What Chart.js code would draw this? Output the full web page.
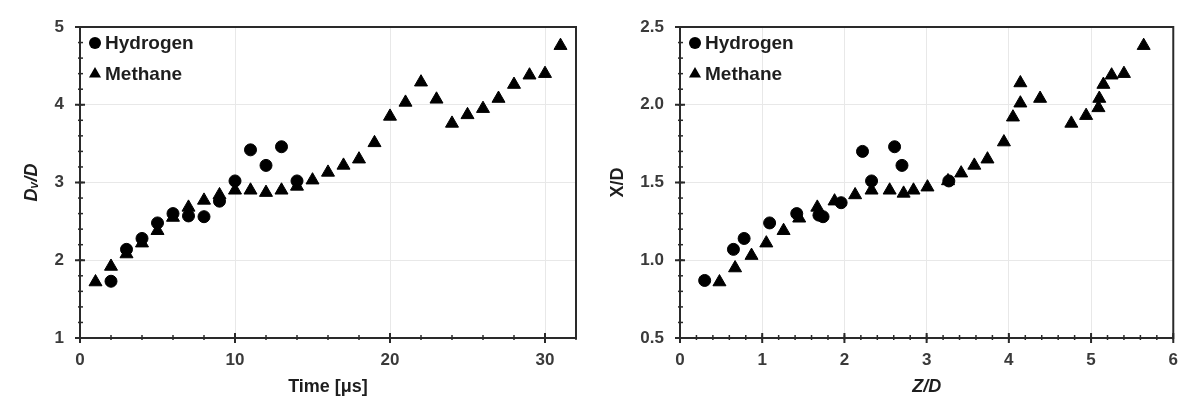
<!DOCTYPE html>
<html>
<head>
<meta charset="utf-8">
<script src="https://cdn.jsdelivr.net/npm/chart.js@4.4.1/dist/chart.umd.min.js"></script>
<style>
  html, body { margin: 0; padding: 0; background: #fff; }
  .wrap { position: absolute; top: 0; width: 595px; height: 410px; }
  #leftWrap { left: 0; }
  #rightWrap { left: 595px; }
</style>
</head>
<body>
<div class="wrap" id="leftWrap"><canvas id="timeChart" width="595" height="410"></canvas></div>
<div class="wrap" id="rightWrap"><canvas id="zChart" width="595" height="410"></canvas></div>
<script>
// Left panel: vortex diameter vs time
const timeH2 = [2, 3, 4, 5, 6, 7, 8, 9, 10, 11, 12, 13, 14];
const dvH2 = [1.73, 2.14, 2.28, 2.48, 2.60, 2.57, 2.56, 2.76, 3.02, 3.42, 3.22, 3.46, 3.02];
const timeCH4 = [1, 2, 3, 4, 5, 6, 7, 8, 9, 10, 11, 12, 13, 14, 15, 16, 17, 18, 19, 20, 21, 22, 23, 24, 25, 26, 27, 28, 29, 30, 31];
const dvCH4 = [1.72, 1.92, 2.08, 2.22, 2.38, 2.55, 2.68, 2.77, 2.84, 2.90, 2.90, 2.87, 2.90, 2.95, 3.03,
               3.13, 3.22, 3.30, 3.51, 3.85, 4.03, 4.29, 4.07, 3.76, 3.87, 3.95, 4.08, 4.26, 4.38, 4.40, 4.76];

// Right panel: X/D vs Z/D
const zdH2 = [0.30, 0.65, 0.78, 1.09, 1.42, 1.69, 1.74, 1.96, 2.22, 2.33, 2.61, 2.70, 3.27];
const xdH2 = [0.87, 1.07, 1.14, 1.24, 1.30, 1.29, 1.28, 1.37, 1.70, 1.51, 1.73, 1.61, 1.51];
const zdCH4 = [0.48, 0.67, 0.87, 1.05, 1.26, 1.45, 1.67, 1.88, 2.13, 2.33, 2.55, 2.72, 2.84, 3.01, 3.26, 3.42,
               3.58, 3.74, 3.94, 4.05, 4.14, 4.14, 4.38, 4.76, 4.94, 5.09, 5.10, 5.15, 5.25, 5.40, 5.64];
const xdCH4 = [0.86, 0.95, 1.03, 1.11, 1.19, 1.27, 1.34, 1.38, 1.42, 1.45, 1.45, 1.43, 1.45, 1.47, 1.51, 1.56,
               1.61, 1.65, 1.76, 1.92, 2.01, 2.14, 2.04, 1.88, 1.93, 1.98, 2.04, 2.13, 2.19, 2.20, 2.38];

const seriesNames = ['Hydrogen', 'Methane'];

const FONT = "'Liberation Sans', Arial, sans-serif";
const INK = '#1e1e1e';
const TICK_INK = '#3a3a3a';

const toPoints = (xs, ys) => xs.map((v, i) => ({ x: v, y: ys[i] }));

// frame + major/minor tick marks drawn from the scales
const frameTicks = {
    id: 'frameTicks',
    afterDatasetsDraw(chart, args, opts) {
        const { ctx, chartArea: a, scales: { x, y } } = chart;
        ctx.save();
        ctx.strokeStyle = '#2a2a2a';
        ctx.lineWidth = 1.5;
        const n = (s, step) => Math.round((s.max - s.min) / step);
        for (let i = 0; i <= n(x, opts.xMinor); i++) {
            const px = x.getPixelForValue(x.min + i * opts.xMinor);
            ctx.beginPath(); ctx.moveTo(px, a.bottom - 3); ctx.lineTo(px, a.bottom + 2); ctx.stroke();
        }
        for (let i = 0; i <= n(y, opts.yMinor); i++) {
            const py = y.getPixelForValue(y.min + i * opts.yMinor);
            ctx.beginPath(); ctx.moveTo(a.left - 2, py); ctx.lineTo(a.left + 3, py); ctx.stroke();
        }
        ctx.lineWidth = 2;
        x.ticks.forEach(t => {
            const px = x.getPixelForValue(t.value);
            ctx.beginPath(); ctx.moveTo(px, a.bottom - 5); ctx.lineTo(px, a.bottom + 5); ctx.stroke();
        });
        y.ticks.forEach(t => {
            const py = y.getPixelForValue(t.value);
            ctx.beginPath(); ctx.moveTo(a.left - 5, py); ctx.lineTo(a.left + 5, py); ctx.stroke();
        });
        ctx.strokeRect(a.left, a.top, a.right - a.left, a.bottom - a.top);
        ctx.restore();
    }
};

// legend tucked into the top-left corner of the plot
const insideLegend = {
    id: 'insideLegend',
    afterDraw(chart, args, opts) {
        const { ctx, chartArea: a } = chart;
        ctx.save();
        ctx.font = `bold 19px ${FONT}`;
        ctx.textBaseline = 'middle';
        chart.data.datasets.forEach((ds, i) => {
            const cx = a.left + 15;
            const cy = a.top + 16 + i * 31;
            ctx.fillStyle = '#000';
            Chart.helpers.drawPoint(ctx, { pointStyle: ds.pointStyle, radius: opts.radius[i], borderWidth: 0 }, cx, cy);
            ctx.fillStyle = INK;
            ctx.fillText(ds.label, cx + 10, cy + 1);
        });
        ctx.restore();
    }
};

function makeChart(id, cfg) {
    return new Chart(document.getElementById(id), {
        type: 'scatter',
        data: {
            datasets: [
                {
                    label: seriesNames[0],
                    data: cfg.h2,
                    pointStyle: 'circle',
                    pointRadius: 6,
                    pointBorderWidth: 1,
                    backgroundColor: '#000',
                    borderColor: '#000'
                },
                {
                    label: seriesNames[1],
                    data: cfg.ch4,
                    pointStyle: 'triangle',
                    pointRadius: 7.5,
                    pointBorderWidth: 1,
                    backgroundColor: '#000',
                    borderColor: '#000'
                }
            ]
        },
        options: {
            responsive: false,
            animation: false,
            layout: { padding: { top: 27, right: cfg.padRight, left: 0, bottom: 0 } },
            scales: {
                x: {
                    type: 'linear',
                    min: cfg.xMin, max: cfg.xMax,
                    ticks: {
                        stepSize: cfg.xStep, includeBounds: false, padding: 12,
                        color: TICK_INK, font: { family: FONT, size: 17, weight: 'bold' },
                        callback: cfg.xFmt
                    },
                    grid: { color: '#e8e8e8', lineWidth: 1, drawTicks: false },
                    border: { display: false },
                    title: {
                        display: true, text: cfg.xTitle, color: INK,
                        font: { family: FONT, size: 18, weight: 'bold', style: cfg.xTitleStyle },
                        padding: { top: 0, bottom: 12 }
                    },
                    afterFit(s) { s.height = 72; }
                },
                y: {
                    type: 'linear',
                    min: cfg.yMin, max: cfg.yMax,
                    ticks: {
                        stepSize: cfg.yStep, padding: 16,
                        color: TICK_INK, font: { family: FONT, size: 17, weight: 'bold' },
                        callback: cfg.yFmt
                    },
                    grid: { color: '#e8e8e8', lineWidth: 1, drawTicks: false },
                    border: { display: false },
                    title: {
                        display: true, text: cfg.yTitle, color: INK,
                        font: { family: FONT, size: 18, weight: 'bold', style: cfg.yTitleStyle },
                        padding: { top: cfg.yTitlePad, bottom: 0 }
                    },
                    afterFit(s) { s.width = cfg.yWidth; }
                }
            },
            plugins: {
                legend: { display: false },
                tooltip: { enabled: false },
                frameTicks: { xMinor: cfg.xMinor, yMinor: cfg.yMinor },
                insideLegend: { radius: [6, 7] }
            }
        },
        plugins: [frameTicks, insideLegend]
    });
}

makeChart('timeChart', {
    h2: toPoints(timeH2, dvH2),
    ch4: toPoints(timeCH4, dvCH4),
    xMin: 0, xMax: 32, xStep: 10, xMinor: 2,
    yMin: 1, yMax: 5, yStep: 1, yMinor: 0.2,
    xFmt: v => v, yFmt: v => v,
    xTitle: 'Time [μs]', xTitleStyle: 'normal',
    yTitle: 'Dᵥ/D', yTitleStyle: 'italic', yTitlePad: 21,
    yWidth: 80, padRight: 19
});

makeChart('zChart', {
    h2: toPoints(zdH2, xdH2),
    ch4: toPoints(zdCH4, xdCH4),
    xMin: 0, xMax: 6, xStep: 1, xMinor: 0.2,
    yMin: 0.5, yMax: 2.5, yStep: 0.5, yMinor: 0.1,
    xFmt: v => v, yFmt: v => Number(v).toFixed(1),
    xTitle: 'Z/D', xTitleStyle: 'italic',
    yTitle: 'X/D', yTitleStyle: 'normal', yTitlePad: 12,
    yWidth: 85, padRight: 6
});
</script>
</body>
</html>
